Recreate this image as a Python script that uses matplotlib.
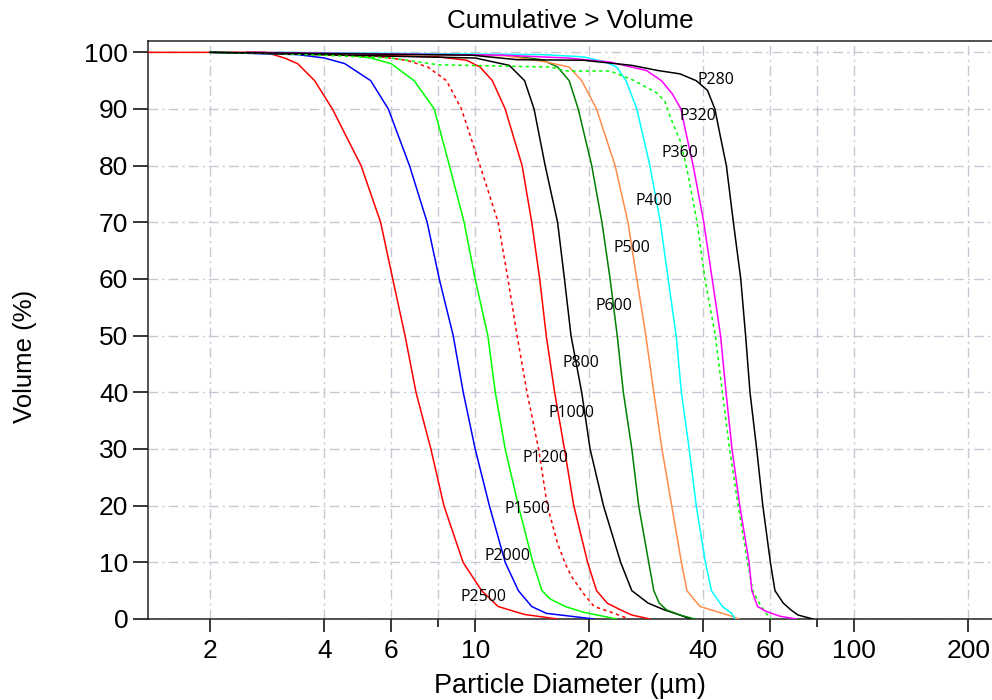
import matplotlib
matplotlib.use("Agg")
from matplotlib import pyplot as plt
from matplotlib.ticker import FixedLocator, FixedFormatter, NullFormatter

# cumulative volume (%) above a given particle diameter (um)
p2500_d = [1.37, 2.8, 3.14, 3.4, 3.77, 4.2, 5.0, 5.63, 6.06, 6.53, 6.98, 7.64, 8.27, 9.29, 10.4, 11.5, 13.5, 16.5]
p2500_v = [100, 100, 99, 98, 95, 90, 80, 70, 60, 50, 40, 30, 20, 10, 5, 2.2, 0.8, 0]

p2000_d = [2.0, 3.4, 4.0, 4.53, 5.3, 5.9, 6.71, 7.47, 8.04, 8.75, 9.30, 10.0, 10.9, 12.0, 13.0, 14.1, 15.4, 20.6]
p2000_v = [100, 99.6, 99, 98, 95, 90, 80, 70, 60, 50, 40, 30, 20, 10, 5, 2.2, 1, 0]

p1500_d = [2.0, 4.5, 5.3, 6.0, 6.9, 7.8, 8.55, 9.35, 10.0, 10.8, 11.3, 12.0, 13.0, 14.2, 15.0, 15.8, 17.3, 19.3, 23.6]
p1500_v = [100, 99.6, 99, 98, 95, 90, 80, 70, 60, 50, 40, 30, 20, 10, 5, 3.5, 2.2, 1.2, 0]

p1200_d = [2.5, 5.5, 6.6, 7.5, 8.4, 9.2, 10.3, 11.5, 12.2, 12.9, 13.7, 14.7, 15.5, 16.5, 17.3, 18.0, 19.3, 20.6, 22.6, 25.5]
p1200_v = [100, 99.3, 98.6, 97.4, 95, 90, 80, 70, 60, 50, 40, 30, 20, 13.3, 9.7, 7.4, 4.5, 2.2, 1.3, 0]

p1000_d = [2.5, 8.0, 9.5, 10.3, 11.1, 12.0, 13.3, 14.1, 14.8, 15.4, 16.2, 17.2, 18.2, 19.8, 20.9, 22.3, 24.2, 25.9, 28.9]
p1000_v = [100, 99.2, 98.6, 97.4, 95, 90, 80, 70, 60, 50, 40, 30, 20, 10, 5, 2.8, 1.6, 0.7, 0]

p800_d = [2.0, 10.0, 12.3, 13.5, 14.3, 15.3, 16.5, 17.2, 17.9, 19.1, 20.1, 21.8, 24.2, 25.9, 28.6, 31.6, 34.7, 37.0]
p800_v = [100, 99, 97.7, 95, 90, 80, 70, 60, 50, 40, 30, 20, 10, 5, 2.8, 1.6, 0.7, 0]

p600_d = [2.5, 12.0, 15.0, 16.5, 17.7, 18.7, 20.3, 21.6, 22.7, 23.7, 24.6, 25.9, 27.0, 28.7, 29.6, 30.6, 32.0, 34.7, 37.9]
p600_v = [100, 99.5, 98.7, 97.4, 95, 90, 80, 70, 60, 50, 40, 30, 20, 10, 5, 2.8, 1.6, 0.7, 0]

p500_d = [3.0, 12.0, 15.4, 17.7, 19.1, 20.9, 23.4, 25.3, 26.7, 28.2, 29.6, 31.1, 33.0, 35.0, 36.2, 39.2, 43.4, 47.5, 49.6]
p500_v = [100, 99.4, 98.3, 97.4, 95, 90, 80, 70, 60, 50, 40, 30, 20, 10, 5, 2.2, 1.3, 0.5, 0]

p400_d = [3.0, 15.0, 19.3, 22.1, 23.6, 25.0, 26.7, 28.9, 30.8, 32.3, 33.9, 35.0, 36.7, 38.3, 40.5, 42.0, 44.9, 47.5, 48.5]
p400_v = [100, 99.6, 99.2, 98.3, 97.4, 95, 90, 80, 70, 60, 50, 40, 30, 20, 10, 5, 2.2, 1, 0]

p360_d = [2.0, 3.0, 6.0, 8.0, 15.8, 17.5, 22.7, 26.1, 30.2, 31.7, 32.7, 34.8, 36.3, 38.5, 40.4, 43.0, 44.9, 46.9, 49.4, 52.3, 54.0, 56.5, 58.5, 60.5]
p360_v = [100, 99.8, 99, 97.8, 97.4, 96.7, 96.7, 95.1, 92.8, 91.3, 88.6, 84.3, 79, 70, 60, 50, 40, 30, 20, 10, 5, 2.5, 1, 0]

p320_d = [2.5, 11.8, 17.5, 22.6, 24.7, 28.3, 31.0, 33.1, 34.9, 36.2, 37.6, 40.1, 42.2, 44.4, 45.9, 47.6, 49.9, 52.8, 53.7, 55.6, 58.8, 63.6, 70.3]
p320_v = [100, 99.5, 99, 98.3, 97.7, 96.8, 95, 92.7, 90, 85, 80, 70, 60, 50, 40, 30, 20, 10, 5, 2.2, 1.3, 0.5, 0]

p280_d = [2.0, 9.8, 12.9, 19.3, 25.9, 30.3, 34.7, 38.3, 41.0, 42.9, 44.4, 46.0, 48.0, 50.2, 51.7, 53.1, 55.3, 57.4, 60.1, 61.8, 65.0, 68.1, 71.1, 77.8]
p280_v = [100, 99.5, 98.7, 98.6, 97.7, 96.8, 96.2, 95, 93.3, 90, 85, 80, 70, 60, 50, 40, 30, 20, 10, 5, 2.8, 1.6, 0.7, 0]

grades = ["P2500", "P2000", "P1500", "P1200", "P1000", "P800",
          "P600", "P500", "P400", "P360", "P320", "P280"]
diameters = [p2500_d, p2000_d, p1500_d, p1200_d, p1000_d, p800_d,
             p600_d, p500_d, p400_d, p360_d, p320_d, p280_d]
volumes = [p2500_v, p2000_v, p1500_v, p1200_v, p1000_v, p800_v,
           p600_v, p500_v, p400_v, p360_v, p320_v, p280_v]
colors = ["#ff0000", "#0000ff", "#00ff00", "#ff0000", "#ff0000", "#000000",
          "#008000", "#ff8c4a", "#00ffff", "#00ff00", "#ff00ff", "#000000"]
dotted = [False, False, False, True, False, False,
          False, False, False, True, False, False]

# where the grade names sit (diameter, volume)
label_d = [10.5, 12.2, 13.7, 15.3, 17.9, 19.0, 23.3, 25.9, 29.6, 34.7, 38.8, 43.1]
label_v = [3.9, 11.1, 19.4, 28.5, 36.3, 45.1, 55.2, 65.4, 73.8, 82.2, 88.7, 95.2]

x_major = [2, 4, 6, 10, 20, 40, 60, 100, 200]
x_minor = [8, 80]
y_ticks = [0, 10, 20, 30, 40, 50, 60, 70, 80, 90, 100]

plt.rcParams["font.family"] = ["Liberation Sans", "DejaVu Sans"]

fig = plt.figure(figsize=(9.92, 7.0), dpi=100)
ax = fig.add_axes([148 / 992, 81 / 700, 844 / 992, 578 / 700])

for d, v, c, dot in zip(diameters, volumes, colors, dotted):
    ls = (0, (2.2, 2.2)) if dot else "-"
    ax.plot(d, v, color=c, lw=1.1, ls=ls, zorder=3)

for name, x, y in zip(grades, label_d, label_v):
    ax.text(x, y, name, ha="center", va="center", fontsize=11.5,
            family=["Open Sans", "DejaVu Sans"], zorder=4)

ax.set_xscale("log")
ax.set_xlim(1.37, 231)
ax.set_ylim(0, 102)

ax.xaxis.set_major_locator(FixedLocator(x_major))
ax.xaxis.set_major_formatter(FixedFormatter([str(t) for t in x_major]))
ax.xaxis.set_minor_locator(FixedLocator(x_minor))
ax.xaxis.set_minor_formatter(NullFormatter())
ax.set_yticks(y_ticks)

grid_style = dict(color="#c8c8d4", lw=1.0, ls=(0, (7, 3, 1.5, 3)))
ax.grid(True, which="major", **grid_style)
ax.grid(True, which="minor", axis="x", **grid_style)
ax.set_axisbelow(True)

ax.tick_params(axis="x", which="major", length=9.4, width=1.1, pad=5, labelsize=19)
ax.tick_params(axis="x", which="minor", length=5.5, width=1.1)
ax.tick_params(axis="y", length=10.8, width=1.1, pad=3.5, labelsize=19)

ax.spines["right"].set_visible(False)
for s in ["left", "bottom", "top"]:
    ax.spines[s].set_linewidth(1.1)
    ax.spines[s].set_color("#222222")

ax.set_xlabel("Particle Diameter (µm)", fontsize=19.5, labelpad=7)
ax.set_ylabel("Volume (%)", fontsize=18.5)
ax.yaxis.set_label_coords(-0.131, 0.455)
ax.set_title("Cumulative > Volume", fontsize=18.7, pad=9)

fig.savefig("out.png", dpi=100)
